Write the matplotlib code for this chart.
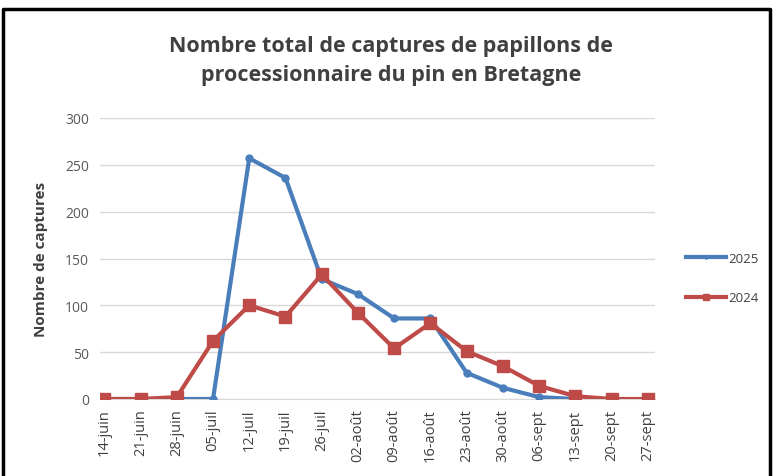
import matplotlib
matplotlib.use('agg')
import matplotlib.pyplot as plt
from matplotlib.lines import Line2D

plt.rcParams['font.family'] = ['Open Sans', 'DejaVu Sans']

# semaines de relevé
dates = ["14-juin", "21-juin", "28-juin", "05-juil", "12-juil", "19-juil",
         "26-juil", "02-août", "09-août", "16-août", "23-août", "30-août",
         "06-sept", "13-sept", "20-sept", "27-sept"]

# captures 2025 (relevé jusqu'au 13-sept)
captures_2025 = [0, 0, 0, 0, 257, 236, 128, 112, 86, 86, 28, 12, 2, 0]
# captures 2024
captures_2024 = [0, 0, 2, 62, 100, 88, 133, 92, 54, 81, 51, 35, 14, 3, 0, 0]

bleu = '#4a7ebb'
rouge = '#be4b48'

fig = plt.figure(figsize=(7.74, 4.77), dpi=100)
ax = fig.add_axes([100/774, 77/477, 555/774, 281/477])

x24 = list(range(len(captures_2024)))
x25 = list(range(len(captures_2025)))
ax.plot(x25, captures_2025, color=bleu, lw=3, marker='o', markersize=5, label='2025', zorder=3)
ax.plot(x24, captures_2024, color=rouge, lw=3, marker='s', markersize=9, label='2024', zorder=4)

ax.set_ylim(0, 300)
ax.set_yticks(range(0, 301, 50))
ax.set_xlim(-0.12, 15.2)
ax.set_xticks(x24)
ax.set_xticklabels(dates, rotation=90, fontsize=10.5, color='#404040')
ax.tick_params(axis='y', labelsize=10, labelcolor='#595959', length=0, pad=8)
ax.tick_params(axis='x', length=0, pad=7)
ax.grid(axis='y', color='#d9d9d9', lw=1)
ax.set_axisbelow(True)
for s in ['top', 'right', 'left']:
    ax.spines[s].set_visible(False)
ax.spines['bottom'].set_color('#d9d9d9')

ax.set_ylabel('Nombre de captures', fontsize=11, fontweight='bold', color='#404040', labelpad=12)

fig.text(0.505, 0.925, 'Nombre total de captures de papillons de\nprocessionnaire du pin en Bretagne',
         ha='center', va='top', fontsize=15.5, fontweight='bold', color='#404040', linespacing=1.5)

ax.legend(loc='center left', bbox_to_anchor=(1.035, 0.43), frameon=False, fontsize=9.5,
          labelcolor='#404040', handlelength=3.0, handletextpad=0.2, labelspacing=2.0,
          markerscale=0.45)

# cadre noir
fig.add_artist(Line2D([3/774, 3/774, 770/774, 770/774], [0, 1 - 10/477, 1 - 10/477, 0],
                      transform=fig.transFigure, color='black', lw=2.5))

fig.savefig('out.png', dpi=100)
